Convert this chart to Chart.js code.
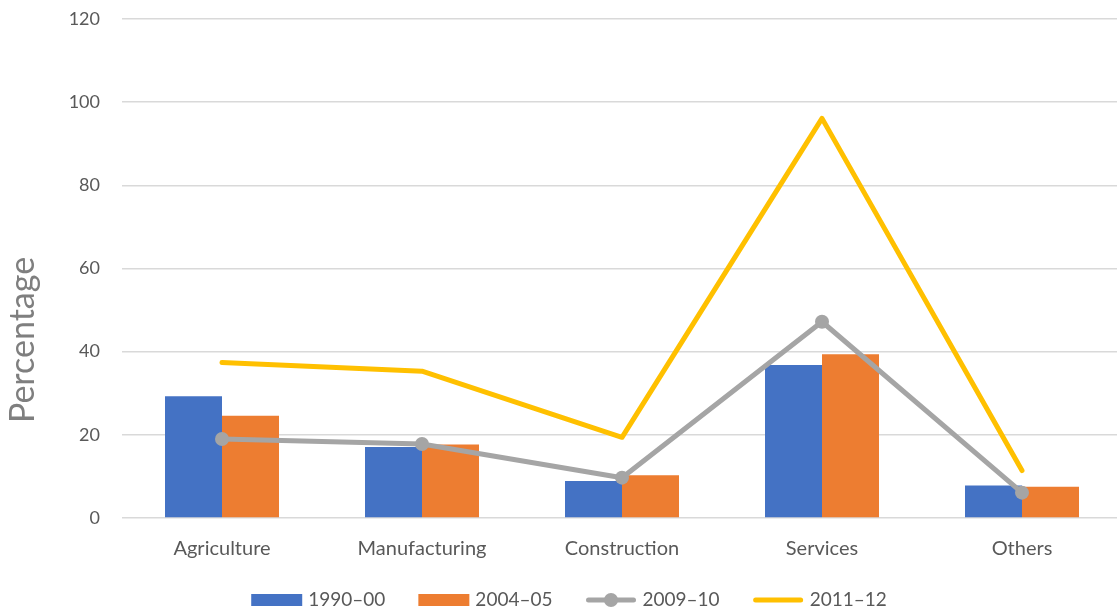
<!DOCTYPE html>
<html>
<head>
<meta charset="utf-8">
<script src="https://cdn.jsdelivr.net/npm/chart.js@4"></script>
<style>
  html, body { margin: 0; padding: 0; background: #fff; overflow: hidden; }
  #c { display: block; }
</style>
</head>
<body>
<canvas id="c" width="1130" height="613" style="width:1130px;height:613px"></canvas>
<script>
// values
var sectors = ["Agriculture", "Manufacturing", "Construction", "Services", "Others"];
var y1990 = [29.3, 17.1, 8.9, 36.8, 7.8];
var y2004 = [24.6, 17.7, 10.3, 39.4, 7.5];
var y2009 = [19.0, 17.8, 9.7, 47.2, 6.1];
var y2011 = [37.4, 35.3, 19.4, 96.1, 11.4];
var yTicks = [0, 20, 40, 60, 80, 100, 120];

var textColor = "#595959";
Chart.defaults.font.family = "Lato, 'Open Sans', sans-serif";

// y axis title, drawn rotated where Excel puts it
var axisTitle = {
  id: "axisTitle",
  afterDraw: function(chart) {
    var ctx = chart.ctx;
    ctx.save();
    ctx.translate(23, 340);
    ctx.rotate(-Math.PI / 2);
    ctx.fillStyle = "#7f7f7f";
    ctx.font = "34px Lato, sans-serif";
    ctx.textAlign = "center";
    ctx.textBaseline = "middle";
    ctx.fillText("Percentage", 0, 0);
    ctx.restore();
  }
};

// legend along the bottom, built from the datasets
var bottomLegend = {
  id: "bottomLegend",
  afterDraw: function(chart) {
    var ctx = chart.ctx;
    var sets = chart.data.datasets;
    var boxW = 51, gapText = 6, gapItem = 33, y = 600;
    ctx.save();
    ctx.font = "19px Lato, sans-serif";
    var total = 0;
    sets.forEach(function(ds, i) {
      total += boxW + gapText + ctx.measureText(ds.label).width;
      if (i < sets.length - 1) total += gapItem;
    });
    var x = 569 - total / 2;
    sets.forEach(function(ds) {
      if (ds.type === "line") {
        ctx.strokeStyle = ds.borderColor;
        ctx.lineWidth = ds.borderWidth;
        ctx.lineCap = "round";
        ctx.beginPath();
        ctx.moveTo(x + 3, y);
        ctx.lineTo(x + boxW - 3, y);
        ctx.stroke();
        if (ds.pointRadius > 0) {
          ctx.fillStyle = ds.borderColor;
          ctx.beginPath();
          ctx.arc(x + boxW / 2, y, ds.pointRadius, 0, Math.PI * 2);
          ctx.fill();
        }
      } else {
        ctx.fillStyle = ds.backgroundColor;
        ctx.fillRect(x, y - 6, boxW, 12);
      }
      x += boxW + gapText;
      ctx.fillStyle = textColor;
      ctx.textBaseline = "middle";
      ctx.fillText(ds.label, x, y);
      x += ctx.measureText(ds.label).width + gapItem;
    });
    ctx.restore();
  }
};

new Chart(document.getElementById("c"), {
  data: {
    labels: sectors,
    datasets: [
      { type: "bar", label: "1990\u201300", data: y1990, backgroundColor: "#4472C4", order: 2 },
      { type: "bar", label: "2004\u201305", data: y2004, backgroundColor: "#ED7D31", order: 2 },
      { type: "line", label: "2009\u201310", data: y2009, borderColor: "#A5A5A5", backgroundColor: "#A5A5A5",
        borderWidth: 5, pointRadius: 7, pointBackgroundColor: "#A5A5A5", pointBorderWidth: 0,
        borderJoinStyle: "round", borderCapStyle: "round", order: 1 },
      { type: "line", label: "2011\u201312", data: y2011, borderColor: "#FFC000", backgroundColor: "#FFC000",
        borderWidth: 5, pointRadius: 0, borderJoinStyle: "round", borderCapStyle: "round", order: 1 }
    ]
  },
  options: {
    responsive: false,
    animation: false,
    layout: { padding: { top: 19, left: 0, right: 8, bottom: 45 } },
    plugins: { legend: { display: false }, tooltip: { enabled: false } },
    datasets: { bar: { categoryPercentage: 0.57, barPercentage: 1.0 } },
    scales: {
      x: {
        grid: { display: false },
        border: { display: false },
        ticks: { color: textColor, font: { size: 20 }, padding: 11 },
        afterFit: function(s) { s.height = 50; }
      },
      y: {
        min: yTicks[0],
        max: yTicks[yTicks.length - 1],
        grid: { color: "#d9d9d9", lineWidth: 1.5, drawTicks: false },
        border: { display: false },
        afterBuildTicks: function(s) { s.ticks = yTicks.map(function(v) { return { value: v }; }); },
        ticks: { color: textColor, font: { size: 18 }, padding: 22 },
        afterFit: function(s) { s.width = 122; s.paddingTop = 0; s.paddingBottom = 0; }
      }
    }
  },
  plugins: [axisTitle, bottomLegend]
});
</script>
</body>
</html>
